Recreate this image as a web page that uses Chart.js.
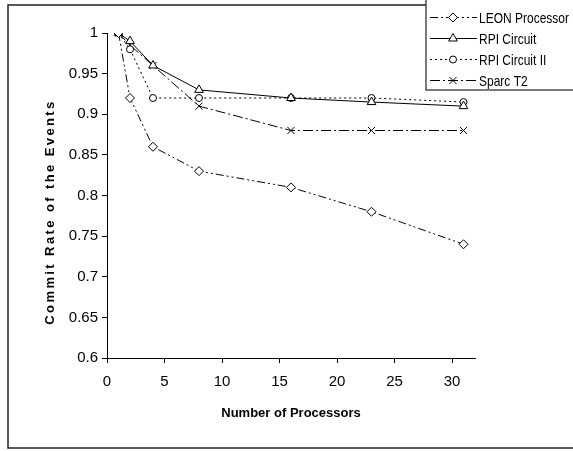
<!DOCTYPE html>
<html>
<head>
<meta charset="utf-8">
<script src="https://cdn.jsdelivr.net/npm/chart.js@4.4.1/dist/chart.umd.min.js"></script>
<style>
  body { margin: 0; background: #fff; }
  canvas { display: block; }
</style>
</head>
<body>
<canvas id="grafica" width="573" height="451"></canvas>
<script>
// data
const processors = [1, 2, 4, 8, 16, 23, 31];
const leon = [1, 0.92, 0.86, 0.83, 0.81, 0.78, 0.74];
const rpi = [1, 0.99, 0.96, 0.93, 0.92, 0.915, 0.91];
const rpi2 = [1, 0.98, 0.92, 0.92, 0.92, 0.92, 0.915];
const sparc = [1, 0.985, 0.96, 0.91, 0.88, 0.88, 0.88];
const xTicks = [0, 5, 10, 15, 20, 25, 30];
const yTicks = [0.6, 0.65, 0.7, 0.75, 0.8, 0.85, 0.9, 0.95, 1];

const fuente = '"Liberation Sans", Arial, sans-serif';

function serie(label, ys, estilo, radio, dash) {
  return {
    label: label,
    data: processors.map((x, i) => ({x: x, y: ys[i]})),
    borderColor: '#000',
    borderWidth: 1,
    borderDash: dash,
    pointStyle: estilo,
    pointRadius: radio,
    pointBorderColor: '#000',
    pointBackgroundColor: '#fff',
    pointBorderWidth: 1,
    fill: false,
    tension: 0
  };
}

const datasets = [
  serie('LEON Processor', leon, 'rectRot', 4.5, [8, 3, 2, 3, 2, 3]),
  serie('RPI Circuit', rpi, 'triangle', 5, []),
  serie('RPI Circuit II', rpi2, 'circle', 3.5, [2, 3]),
  serie('Sparc T2', sparc, 'crossRot', 5, [10, 3, 2, 3])
];

// marco, leyenda y titulo vertical
const extras = {
  id: 'extras',
  beforeDraw(chart) {
    const ctx = chart.ctx;
    ctx.save();
    ctx.fillStyle = '#fff';
    ctx.fillRect(0, 0, chart.width, chart.height);
    ctx.strokeStyle = '#222';
    ctx.lineWidth = 1.5;
    ctx.strokeRect(8, 5, 600, 443);
    ctx.restore();
  },
  afterDraw(chart) {
    const ctx = chart.ctx;
    ctx.save();
    // titulo eje y
    ctx.translate(50, 212);
    ctx.rotate(-Math.PI / 2);
    ctx.font = 'bold 13px ' + fuente;
    ctx.letterSpacing = '2.4px';
    ctx.fillStyle = '#000';
    ctx.textAlign = 'center';
    ctx.textBaseline = 'middle';
    ctx.fillText('Commit Rate of the Events', 0, 0);
    ctx.restore();

    // leyenda
    ctx.save();
    ctx.fillStyle = '#fff';
    ctx.fillRect(426, -5, 200, 95);
    ctx.strokeStyle = '#222';
    ctx.lineWidth = 1.2;
    ctx.strokeRect(426, -5, 200, 95);
    ctx.textBaseline = 'middle';
    ctx.textAlign = 'left';
    chart.data.datasets.forEach((ds, i) => {
      const y = 17.5 + i * 21;
      ctx.strokeStyle = '#000';
      ctx.lineWidth = 1;
      ctx.setLineDash(ds.borderDash);
      ctx.beginPath();
      ctx.moveTo(430, y);
      ctx.lineTo(477, y);
      ctx.stroke();
      ctx.setLineDash([]);
      ctx.fillStyle = '#fff';
      Chart.helpers.drawPoint(ctx, {
        pointStyle: ds.pointStyle,
        radius: ds.pointRadius,
        borderWidth: 1,
        rotation: 0
      }, 453, y);
      // texto estrecho como en la original
      ctx.save();
      ctx.translate(479, y + 1);
      ctx.scale(0.8, 1);
      ctx.font = '15px ' + fuente;
      ctx.fillStyle = '#000';
      ctx.fillText(ds.label, 0, 0);
      ctx.restore();
    });
    ctx.restore();
  }
};

new Chart(document.getElementById('grafica'), {
  type: 'line',
  data: { datasets: datasets },
  options: {
    animation: false,
    responsive: false,
    devicePixelRatio: 1,
    layout: { padding: { top: 33, right: 98, left: 0, bottom: 0 } },
    plugins: {
      legend: { display: false },
      tooltip: { enabled: false }
    },
    scales: {
      x: {
        type: 'linear',
        min: 0,
        max: 32,
        afterBuildTicks: (s) => { s.ticks = xTicks.map(v => ({value: v})); },
        afterFit: (s) => { s.height = 93; },
        grid: { drawOnChartArea: false, tickLength: 5, color: '#000' },
        border: { color: '#000', width: 1 },
        ticks: { color: '#000', font: { family: fuente, size: 15 }, padding: 10, maxRotation: 0 },
        title: {
          display: true,
          text: 'Number of Processors',
          color: '#000',
          font: { family: fuente, size: 13, weight: 'bold' },
          padding: { top: 0, bottom: 30 }
        }
      },
      y: {
        min: 0.6,
        max: 1,
        afterBuildTicks: (s) => { s.ticks = yTicks.map(v => ({value: v})); },
        afterFit: (s) => { s.width = 107; },
        grid: { drawOnChartArea: false, tickLength: 5, color: '#000' },
        border: { color: '#000', width: 1 },
        ticks: {
          color: '#000',
          font: { family: fuente, size: 15 },
          padding: 4,
          callback: (v) => String(parseFloat(v.toFixed(2)))
        }
      }
    }
  },
  plugins: [extras]
});
</script>
</body>
</html>
